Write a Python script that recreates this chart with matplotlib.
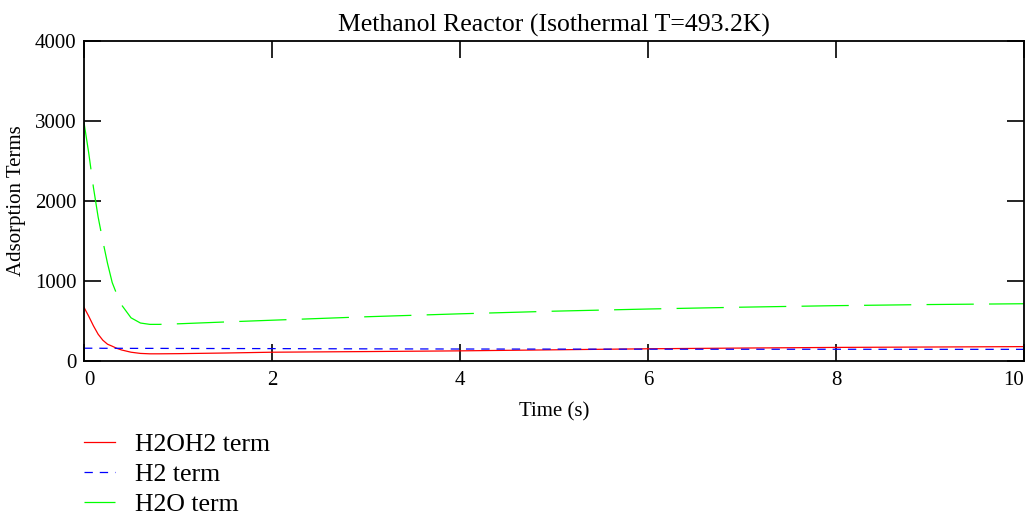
import numpy as np
import matplotlib
matplotlib.use("Agg")
import matplotlib.pyplot as plt

# values
t = [0, 0.05, 0.1, 0.15, 0.2, 0.25, 0.3, 0.35, 0.4, 0.5, 0.6, 0.7, 0.8,
     1.0, 1.5, 2, 3, 4, 5, 6, 7, 8, 9, 10]
h2oh2 = [670, 560, 440, 335, 260, 210, 185, 158, 138, 110, 95, 90, 90,
         92, 100, 110, 118, 127, 140, 153, 162, 170, 175, 180]
h2 = [160, 160, 160, 160, 159, 159, 159, 159, 159, 158, 158, 158, 158,
      157, 156, 155, 152, 150, 149, 148, 147, 147, 146, 146]
h2o = [2980, 2600, 2170, 1800, 1500, 1220, 980, 830, 700, 540, 475, 458, 458,
       465, 488, 510, 553, 590, 623, 650, 673, 692, 706, 716]

labels = ['H2OH2 term', 'H2 term', 'H2O term']
xticks = [0, 2, 4, 6, 8, 10]
yticks = [0, 1000, 2000, 3000, 4000]

plt.rcParams['font.family'] = ['Liberation Serif', 'DejaVu Serif']
plt.rcParams['lines.scale_dashes'] = False

fig = plt.figure(figsize=(10.31, 5.19), dpi=100)
ax = fig.add_axes([0.0815, 0.3044, 0.9117, 0.6166])

l1, = ax.plot(t, h2oh2, color='#ff0000', lw=0.9)
l2, = ax.plot(t, h2, color='#0000ff', lw=0.9, dashes=(6, 5))
l3, = ax.plot(t, h2o, color='#00ff00', lw=0.9, dashes=(34, 11))

ax.set_xlim(0, 10)
ax.set_ylim(0, 4000)
ax.set_xticks(xticks)
ax.set_yticks(yticks)
ax.tick_params(direction='in', length=12.5, width=1.2, top=True, right=True,
               labelsize=15, colors='black')
ax.tick_params(axis='x', pad=7)
ax.tick_params(axis='y', pad=5.5)
xl = ax.get_xticklabels()
xl[0].set_ha('left')
xl[-1].set_ha('right')
for s in ax.spines.values():
    s.set_linewidth(1.3)

ax.set_title('Methanol Reactor (Isothermal T=493.2K)', fontsize=18.5, pad=7)
ax.set_xlabel('Time (s)', fontsize=15, labelpad=9)
ax.set_ylabel('Adsorption Terms', fontsize=15, labelpad=6)

# legend sits under the plot, no frame
fig.legend([l1, l2, l3], labels, loc='upper left', bbox_to_anchor=(0.0815, 0.165),
           frameon=False, fontsize=18.5, handlelength=1.2, handletextpad=0.8,
           labelspacing=0.27, borderpad=0, borderaxespad=0)

fig.savefig('out.png', dpi=100)
